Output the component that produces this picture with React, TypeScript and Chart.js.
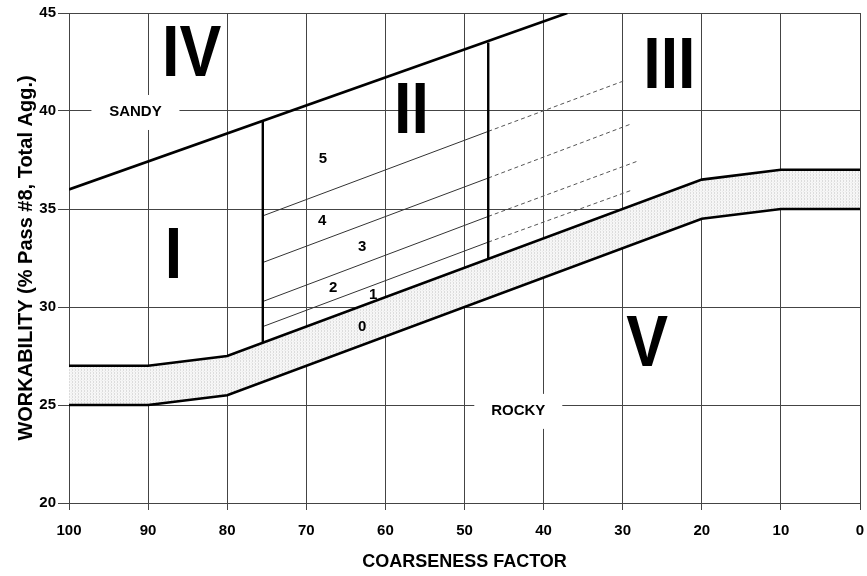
import React, { useEffect, useRef } from "react";
import { Chart, registerables } from "chart.js";

Chart.register(...registerables);

// ---- data (chart values) ----
const bandX = [100, 90, 80, 20, 10, 0];
const bandUpper = [27, 27, 27.5, 36.5, 37, 37];
const bandLower = [25, 25, 25.5, 34.5, 35, 35];

const sandyLineX = [100, 37];
const sandyLineY = [36, 45];

const zoneLeftX = [75.5, 75.5];
const zoneLeftY = [39.5, 28.2];
const zoneRightX = [47, 47];
const zoneRightY = [43.5, 32.5];

const subSolidX = [75.5, 47];
const subSolidY = [
  [34.65, 38.96],
  [32.27, 36.58],
  [30.28, 34.62],
  [29.0, 33.31],
];
const subDashX = [
  [47, 29.7],
  [47, 29.0],
  [47, 28.0],
  [47, 29.0],
];
const subDashY = [
  [38.96, 41.56],
  [36.58, 39.33],
  [34.62, 37.46],
  [33.31, 35.94],
];

const zoneNames = ["IV", "II", "III", "I", "V"];
const zoneNameX = [84.5, 56.7, 24.1, 86.8, 26.9];
const zoneNameY = [42.8, 39.9, 42.2, 32.5, 28.0];

const subNames = ["5", "4", "3", "2", "1", "0"];
const subNameX = [67.9, 68.0, 62.95, 66.6, 61.55, 62.95];
const subNameY = [37.55, 34.41, 33.06, 31.0, 30.62, 29.0];

const callNames = ["SANDY", "ROCKY"];
const callX = [91.6, 43.2];
const callY = [39.95, 24.7];

const xTitle = "COARSENESS FACTOR";
const yTitle = "WORKABILITY (% Pass #8, Total Agg.)";

const FONT = '"Liberation Sans", Arial, sans-serif';

const pts = (xs: number[], ys: number[]) => xs.map((x, i) => ({ x, y: ys[i] }));

export default function App() {
  const ref = useRef<HTMLCanvasElement | null>(null);

  useEffect(() => {
    document.body.style.margin = "0";
    const canvas = ref.current!;
    const ctx = canvas.getContext("2d")!;

    const pc = document.createElement("canvas");
    pc.width = 3;
    pc.height = 3;
    const p = pc.getContext("2d")!;
    p.fillStyle = "#f6f6f6";
    p.fillRect(0, 0, 3, 3);
    p.fillStyle = "#dcdcdc";
    p.fillRect(0, 0, 1, 1);
    p.fillRect(0, 1, 1, 1);
    p.fillStyle = "#ebebeb";
    p.fillRect(2, 2, 1, 1);
    const pattern = ctx.createPattern(pc, "repeat")!;

    const line = (data: any[], w: number, color = "#000", dash: number[] = []) => ({
      data,
      showLine: true,
      pointRadius: 0,
      borderColor: color,
      borderWidth: w,
      borderDash: dash,
      fill: false,
      tension: 0,
    });

    const datasets: any[] = [
      { ...line(pts(bandX, bandUpper), 2.6), fill: "+1", backgroundColor: pattern },
      line(pts(bandX, bandLower), 2.6),
      line(pts(sandyLineX, sandyLineY), 2.6),
      line(pts(zoneLeftX, zoneLeftY), 2.4),
      line(pts(zoneRightX, zoneRightY), 2.4),
    ];
    subSolidY.forEach((ys) => datasets.push(line(pts(subSolidX, ys), 1, "#333")));
    subDashX.forEach((xs, i) => datasets.push(line(pts(xs, subDashY[i]), 1, "#555", [4, 3])));

    const annot = {
      id: "annot",
      afterDatasetsDraw(chart: any) {
        const c = chart.ctx;
        const xs = chart.scales.x;
        const ys = chart.scales.y;
        c.save();
        c.textAlign = "center";
        c.textBaseline = "middle";
        callNames.forEach((t, i) => {
          const px = xs.getPixelForValue(callX[i]);
          const py = ys.getPixelForValue(callY[i]);
          c.fillStyle = "#fff";
          c.fillRect(px - 44, py - 17, 88, 35);
          c.fillStyle = "#000";
          c.font = `bold 15px ${FONT}`;
          c.fillText(t, px, py);
        });
        c.fillStyle = "#000";
        c.font = `bold 15px ${FONT}`;
        subNames.forEach((t, i) => {
          c.fillText(t, xs.getPixelForValue(subNameX[i]), ys.getPixelForValue(subNameY[i]));
        });
        c.font = `bold 72px ${FONT}`;
        zoneNames.forEach((t, i) => {
          const px = xs.getPixelForValue(zoneNameX[i]);
          const py = ys.getPixelForValue(zoneNameY[i]);
          c.save();
          c.translate(px, py);
          c.scale(0.87, 1);
          c.fillText(t, 0, 0);
          c.restore();
        });
        c.restore();
      },
    };

    const chart = new Chart(canvas, {
      type: "scatter",
      data: { datasets },
      plugins: [annot],
      options: {
        animation: false,
        responsive: false,
        devicePixelRatio: 1,
        layout: { padding: { top: 13, right: 7, left: 0, bottom: 0 } },
        plugins: {
          legend: { display: false },
          tooltip: { enabled: false },
          filler: { drawTime: "beforeDatasetsDraw" },
        },
        scales: {
          x: {
            type: "linear",
            min: 0,
            max: 100,
            reverse: true,
            afterFit: (s: any) => {
              s.height = 73;
              s.paddingLeft = 0;
              s.paddingRight = 0;
            },
            ticks: { stepSize: 10, color: "#000", padding: 12, font: { family: FONT, size: 15, weight: "bold" } },
            grid: { color: "#444", lineWidth: 1, tickLength: 7 },
            border: { color: "#444" },
            title: {
              display: true,
              text: xTitle,
              color: "#000",
              font: { family: FONT, size: 18, weight: "bold" },
              padding: { top: 0, bottom: 3 },
            },
          },
          y: {
            type: "linear",
            min: 20,
            max: 45,
            afterFit: (s: any) => {
              s.width = 69;
              s.paddingTop = 0;
              s.paddingBottom = 0;
            },
            ticks: { stepSize: 5, color: "#000", padding: 2, font: { family: FONT, size: 15, weight: "bold" } },
            grid: { color: "#444", lineWidth: 1, tickLength: 11 },
            border: { color: "#444" },
            title: {
              display: true,
              text: yTitle,
              color: "#000",
              font: { family: FONT, size: 20, weight: "bold" },
              padding: { top: 14, bottom: 0 },
            },
          },
        },
      },
    } as any);

    return () => chart.destroy();
  }, []);

  return <canvas ref={ref} width={867} height={576} style={{ display: "block", width: 867, height: 576 }} />;
}
